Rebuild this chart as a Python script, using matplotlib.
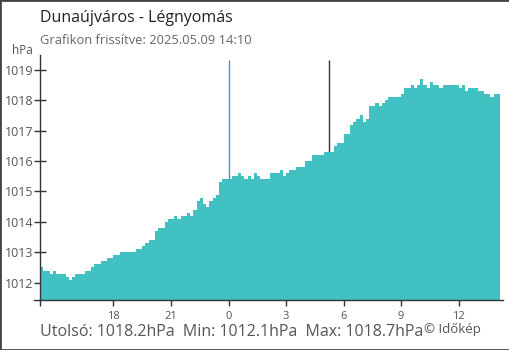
import matplotlib.pyplot as plt
from matplotlib.patches import Rectangle

plt.rcParams['font.family'] = ['Open Sans', 'DejaVu Sans']

# 10 perces mérések 2025.05.08 14:10 - 2025.05.09 14:10 (órák éjféltől)
start_h = -9 - 50 / 60
step_h = 1 / 6
pressure = [
    1012.5, 1012.4, 1012.4, 1012.3, 1012.4, 1012.3, 1012.3, 1012.3, 1012.2, 1012.1,
    1012.2, 1012.3, 1012.3, 1012.3, 1012.4, 1012.4, 1012.5, 1012.6, 1012.6, 1012.7,
    1012.7, 1012.8, 1012.8, 1012.9, 1012.9, 1013.0, 1013.0, 1013.0, 1013.0, 1013.0,
    1013.1, 1013.1, 1013.2, 1013.3, 1013.4, 1013.4, 1013.7, 1013.8, 1013.8, 1014.0,
    1014.1, 1014.1, 1014.2, 1014.1, 1014.2, 1014.2, 1014.3, 1014.2, 1014.4, 1014.7,
    1014.8, 1014.6, 1014.5, 1014.7, 1014.8, 1014.9, 1015.3, 1015.4, 1015.4, 1015.4,
    1015.5, 1015.5, 1015.6, 1015.5, 1015.4, 1015.5, 1015.4, 1015.6, 1015.5, 1015.4,
    1015.4, 1015.4, 1015.6, 1015.6, 1015.6, 1015.7, 1015.5, 1015.6, 1015.7, 1015.7,
    1015.8, 1015.8, 1015.8, 1016.0, 1016.0, 1016.2, 1016.2, 1016.2, 1016.2, 1016.3,
    1016.3, 1016.3, 1016.5, 1016.6, 1016.6, 1016.9, 1016.9, 1017.2, 1017.3, 1017.4,
    1017.5, 1017.3, 1017.4, 1017.8, 1017.8, 1017.9, 1017.8, 1017.9, 1018.0, 1018.1,
    1018.1, 1018.1, 1018.1, 1018.2, 1018.4, 1018.4, 1018.5, 1018.4, 1018.5, 1018.7,
    1018.5, 1018.4, 1018.6, 1018.5, 1018.5, 1018.4, 1018.5, 1018.5, 1018.5, 1018.5,
    1018.5, 1018.4, 1018.5, 1018.3, 1018.4, 1018.4, 1018.4, 1018.3, 1018.3, 1018.2,
    1018.2, 1018.1, 1018.2, 1018.2,
]
tick_pos = [start_h, -6, -3, 0, 3, 6, 9, 12]
tick_labels = ['', '18', '21', '0', '3', '6', '9', '12']
y_ticks = [1012, 1013, 1014, 1015, 1016, 1017, 1018, 1019]
sunrise_h = 5 + 13 / 60

times = [start_h + i * step_h for i in range(len(pressure) + 1)]
vals = pressure + [pressure[-1]]

fig = plt.figure(figsize=(5.1, 3.5), dpi=100)
ax = fig.add_axes([40 / 510, 50 / 350, 463 / 510, 245 / 350])

ymin, ymax = 1011.43, 1019.49
ax.fill_between(times, vals, ymin, step='post', color='#41c1c2', lw=0, zorder=2)
ax.vlines(0, ymin, 1019.33, color='#2a9fd8', lw=1, zorder=1)
ax.vlines(sunrise_h, ymin, 1019.33, color='#333333', lw=1, zorder=1)

ax.set_xlim(start_h, start_h + 463 / 19.17)
ax.set_ylim(ymin, ymax)
for s in ['top', 'right']:
    ax.spines[s].set_visible(False)
for s in ['left', 'bottom']:
    ax.spines[s].set_color('#333333')
    ax.spines[s].set_linewidth(1)
ax.plot([-6 / 463, 0], [0, 0], transform=ax.transAxes, color='#333333', lw=1, clip_on=False)

ax.set_xticks(tick_pos)
ax.set_xticklabels(tick_labels)
ax.set_yticks(y_ticks)
ax.set_yticklabels([str(v) for v in y_ticks])
ax.tick_params(axis='x', direction='out', length=4.5, width=1, color='#333333',
               labelsize=8, labelcolor='#555555', pad=3.5)
ax.tick_params(axis='y', direction='inout', length=9, width=1, color='#333333',
               labelsize=9, labelcolor='#555555', pad=0.5)
ax.get_xticklines()[6].set_color('#2a9fd8')

fig.text(40 / 510, 1 - 18 / 350, 'Dunaújváros - Légnyomás', fontsize=11.5, color='#222222', va='center')
fig.text(40 / 510, 1 - 40 / 350, 'Grafikon frissítve: 2025.05.09 14:10', fontsize=9.3,
         color='#666666', va='center')
fig.text(33 / 510, 1 - 50 / 350, 'hPa', fontsize=8.5, color='#555555', va='center', ha='right')
fig.text(40 / 510, 1 - 332 / 350, 'Utolsó: 1018.2hPa  Min: 1012.1hPa  Max: 1018.7hPa',
         fontsize=11.5, color='#555555', va='center')
fig.text(424 / 510, 1 - 329 / 350, '© Időkép', fontsize=9.5, color='#555555', va='center')

fig.patches.append(Rectangle((0, 0), 1, 1, transform=fig.transFigure, fill=False,
                             edgecolor='#444444', lw=2))

fig.savefig('out.png', dpi=100)
